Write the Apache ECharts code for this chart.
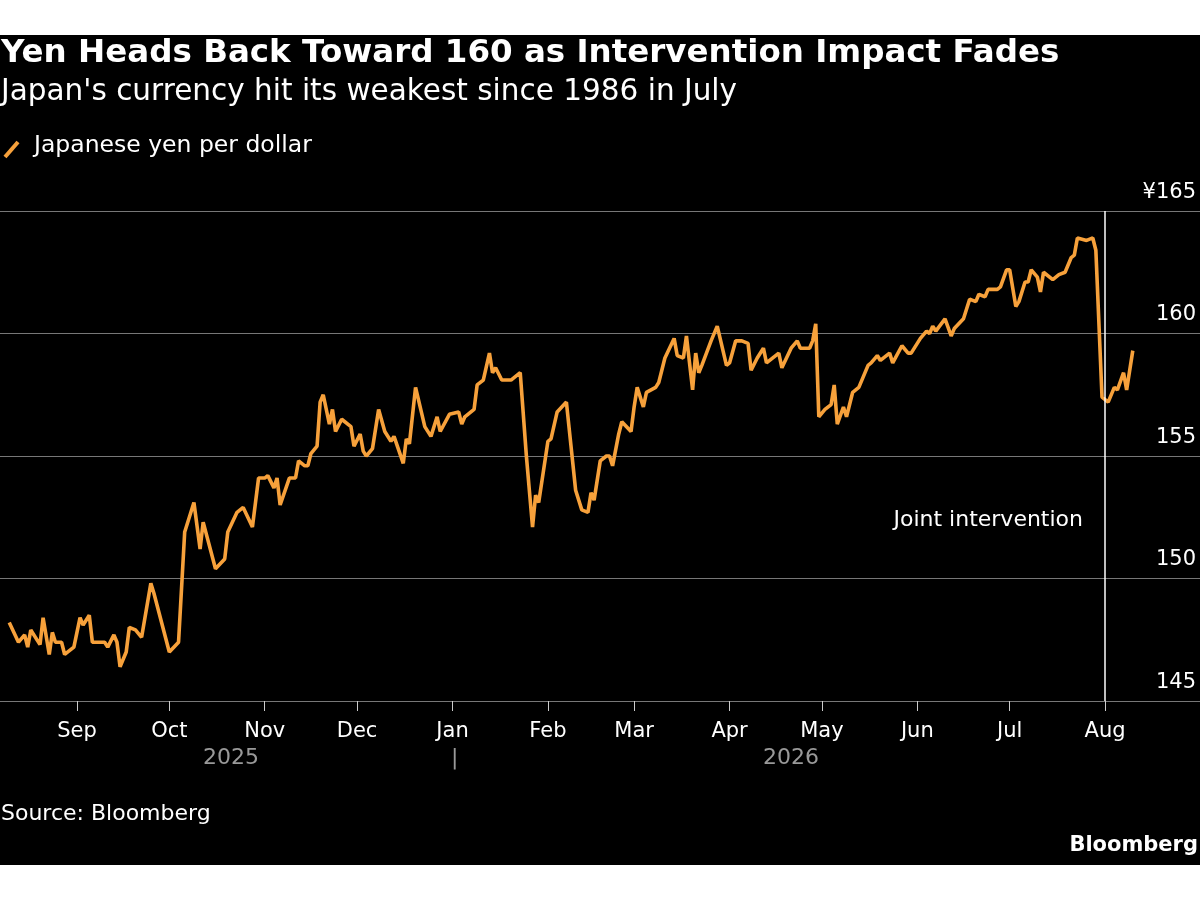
<!DOCTYPE html>
<html><head><meta charset="utf-8">
<script src="https://cdn.jsdelivr.net/npm/echarts@6/dist/echarts.min.js"></script>
<style>html,body{margin:0;padding:0;background:#fff}#c{width:1200px;height:900px}</style>
</head><body><div id="c"></div>
<script>
// days since 2025-08-01
const days = [9,12,14,15,16,19,20,22,23,24,26,27,30,32,33,35,36,40,41,43,44,45,47,48,50,52,55,56,61,64,66,69,71,72,76,79,80,83,85,88,90,92,93,95,96,97,100,102,103,105,106,107,109,110,111,113,114,115,117,120,121,123,124,125,127,129,131,133,134,137,138,139,141,144,146,148,149,152,155,156,157,160,161,163,165,166,167,169,172,175,177,179,180,181,184,185,187,190,193,195,197,198,199,201,203,204,205,207,208,211,212,213,215,216,219,220,222,225,226,228,229,231,232,233,234,237,239,242,243,245,247,249,250,252,254,255,259,260,263,265,266,269,270,271,272,274,276,277,278,280,281,283,285,288,289,291,292,295,296,299,301,302,305,307,308,309,310,313,315,316,319,321,323,324,326,327,330,331,333,334,336,337,339,340,341,343,344,345,348,350,352,354,355,356,359,361,362,364,366,368,369,371,372,374];
const yen = [148.2,147.4,147.7,147.2,147.9,147.3,148.4,146.9,147.8,147.4,147.4,146.9,147.2,148.4,148.1,148.5,147.4,147.4,147.2,147.7,147.4,146.4,147.0,148.0,147.9,147.6,149.8,149.4,147.0,147.4,151.9,153.1,151.2,152.3,150.4,150.8,151.9,152.7,152.9,152.1,154.1,154.1,154.2,153.7,154.1,153.0,154.1,154.1,154.8,154.6,154.6,155.1,155.4,157.2,157.5,156.3,156.9,156.0,156.5,156.2,155.4,155.9,155.2,155.0,155.3,156.9,156.0,155.6,155.8,154.7,155.7,155.5,157.8,156.2,155.8,156.6,156.0,156.7,156.8,156.3,156.6,156.9,157.9,158.1,159.2,158.4,158.6,158.1,158.1,158.4,155.0,152.1,153.4,153.1,155.6,155.7,156.8,157.2,153.6,152.8,152.7,153.5,153.2,154.8,155.0,155.0,154.6,155.9,156.4,156.0,157.0,157.8,157.0,157.6,157.8,158.0,159.0,159.8,159.1,159.0,159.9,157.7,159.2,158.4,158.7,159.7,160.3,158.7,158.8,159.7,159.7,159.6,158.5,159.0,159.4,158.8,159.2,158.6,159.4,159.7,159.4,159.4,159.7,160.4,156.6,156.9,157.1,157.9,156.3,157.0,156.6,157.6,157.8,158.7,158.8,159.1,158.9,159.2,158.8,159.5,159.2,159.2,159.8,160.1,160.0,160.3,160.1,160.6,159.9,160.2,160.6,161.4,161.3,161.6,161.5,161.8,161.8,161.9,162.6,162.6,161.1,161.3,162.1,162.1,162.6,162.3,161.7,162.5,162.2,162.4,162.5,163.1,163.2,163.9,163.8,163.9,163.4,157.4,157.2,157.8,157.7,158.4,157.7,159.3];
const yTicks = [145,150,155,160,165];
const monthNames = ['Jan','Feb','Mar','Apr','May','Jun','Jul','Aug','Sep','Oct','Nov','Dec'];
const base = Date.UTC(2025,7,1);
const DAY = 86400000;
const data = days.map((d,i)=>[base + d*DAY, yen[i]]);
const interventionDate = Date.UTC(2026,7,1);

const F = '"DejaVu Sans", sans-serif';
const chart = echarts.init(document.getElementById('c'));
chart.setOption({
  backgroundColor:'#fff',
  animation:false,
  textStyle:{fontFamily:F},
  grid:{left:0,right:0,top:211,height:490},
  graphic:[
    {type:'rect',z:-10,shape:{x:0,y:35,width:1200,height:830},style:{fill:'#000'}},
    {type:'text',left:1,top:37,style:{text:'Yen Heads Back Toward 160 as Intervention Impact Fades',fill:'#fff',font:'bold 32.5px '+F}},
    {type:'text',left:1,top:77,style:{text:"Japan's currency hit its weakest since 1986 in July",fill:'#fff',font:'29.5px '+F}},
    {type:'line',shape:{x1:5,y1:157,x2:18,y2:142},style:{stroke:'#f7a13b',lineWidth:4}},
    {type:'text',left:34,top:134,style:{text:'Japanese yen per dollar',fill:'#fff',font:'23.5px '+F}},
    {type:'text',left:203,top:747,style:{text:'2025',fill:'#999',font:'22px '+F}},
    {type:'text',left:451,top:747,style:{text:'|',fill:'#999',font:'22px '+F}},
    {type:'text',left:763,top:747,style:{text:'2026',fill:'#999',font:'22px '+F}},
    {type:'text',left:1,top:803,style:{text:'Source: Bloomberg',fill:'#fff',font:'22px '+F}},
    {type:'text',right:2,top:835,style:{text:'Bloomberg',fill:'#fff',font:'bold 21px '+F}},
    {type:'text',right:117,top:509,style:{text:'Joint intervention',fill:'#fff',font:'22px '+F}}
  ],
  xAxis:{type:'time',min:Date.UTC(2025,7,7),max:Date.UTC(2026,7,31,20),
    splitNumber:12,
    axisLine:{show:false},
    axisTick:{show:true,length:10,lineStyle:{color:'#ccc'}},
    splitLine:{show:false},
    axisLabel:{color:'#fff',fontSize:21,margin:20,hideOverlap:false,
      formatter:v=>monthNames[new Date(v).getUTCMonth()]}
  },
  yAxis:{type:'value',position:'right',min:145,max:165,interval:5,
    axisLine:{show:false},axisTick:{show:false},
    splitLine:{lineStyle:{color:'#777',width:1}},
    axisLabel:{inside:true,color:'#fff',fontSize:21,verticalAlign:'bottom',margin:4,
      formatter:v=>(v===yTicks[yTicks.length-1]?'¥':'')+v, padding:[0,0,8,0]}
  },
  series:[{type:'line',data:data,showSymbol:false,
    lineStyle:{color:'#f7a13b',width:3.6},itemStyle:{color:'#f7a13b'},
    markLine:{symbol:'none',silent:true,label:{show:false},
      lineStyle:{color:'#fff',width:1.5,type:'solid'},
      data:[{xAxis:interventionDate}]}
  }]
});
</script></body></html>
